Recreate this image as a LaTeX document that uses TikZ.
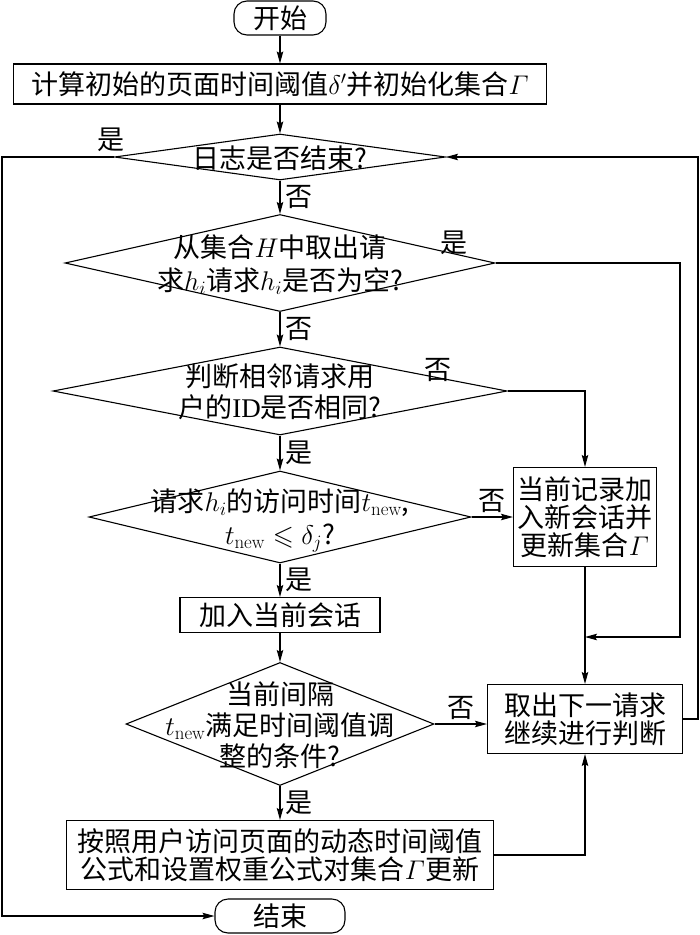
\RequirePackage{fix-cm}
\documentclass[tikz,border=0pt]{standalone}
\usepackage{amsmath}
\usepackage{amssymb}
\usepackage[no-math]{fontspec}
\setmainfont{Noto Sans CJK SC}
\newfontfamily\latinfont{Liberation Serif}
\usepackage{tikz}
\usetikzlibrary{shapes.geometric,arrows.meta}
\newcommand{\dtext}[1]{\smash{\raisebox{-0.4em}{\makebox[0pt]{\begin{tabular}{@{}c@{}}#1\end{tabular}}}}}

\begin{document}
\begin{tikzpicture}[x=1pt,y=-1pt,line width=1.1pt,>={Stealth[length=12pt,width=6.5pt,inset=2pt]},
	every node/.style={font=\fontsize{27}{28}\selectfont},
	box/.style={draw,rectangle,inner sep=0pt},
	term/.style={draw,rectangle,rounded corners=13pt,inner sep=0pt,minimum height=34pt},
	decision/.style={draw,diamond,inner sep=0pt}]
	\useasboundingbox (0,0) rectangle (700,935);
	\node[term,minimum width=92pt] (start) at (280,18) {开始};
	\node[box,minimum width=533pt,minimum height=40pt] (init) at (280,84) {计算初始的页面时间阈值$\delta'$并初始化集合$\varGamma$};
	\node[decision,minimum width=331pt,minimum height=46pt] (d_1) at (280,157) {\dtext{日志是否结束?}};
	\node[decision,minimum width=430pt,minimum height=97pt] (d_2) at (280,263) {\dtext{从集合$H$中取出请\\[2pt]求$h_i$请求$h_i$是否为空?}};
	\node[decision,minimum width=454pt,minimum height=88pt] (d_3) at (280,391) {\dtext{判断相邻请求用\\户的{\latinfont ID}是否相同?}};
	\node[decision,minimum width=382pt,minimum height=92pt] (d_4) at (280,517) {\dtext{请求$h_i$的访问时间$t_{\mathrm{new}}$,\\[4pt]$t_{\mathrm{new}}\leqslant\delta_j$?}};
	\node[box,minimum width=143pt,minimum height=99pt,align=center] (new) at (585,517) {当前记录加\\入新会话并\\更新集合$\varGamma$};
	\node[box,minimum width=200pt,minimum height=35pt] (add) at (280,615) {加入当前会话};
	\node[decision,minimum width=308pt,minimum height=123pt] (d_5) at (280,724) {\dtext{当前间隔\\$t_{\mathrm{new}}$满足时间阈值调\\整的条件?}};
	\node[box,minimum width=195pt,minimum height=69pt,align=center] (next) at (585,719) {取出下一请求\\继续进行判断};
	\node[box,minimum width=427pt,minimum height=69pt,align=center] (upd) at (280,855) {按照用户访问页面的动态时间阈值\\公式和设置权重公式对集合$\varGamma$更新};
	\node[term,minimum width=130pt] (stop) at (280,916) {结束};
	\coordinate (join) at (585,637);
	\node (l_2) at ([shift={(-42,-20)}]d_2.east) {是};
	\node (l_3) at ([shift={(-70,-21)}]d_3.east) {否};
	\draw[->] (start) -- (init);
	\draw[->] (init) -- (d_1);
	\draw[->] (d_1) -- (d_2) node[midway,right=2pt] {否};
	\draw[->] (d_2) -- (d_3) node[midway,right=2pt] {否};
	\draw[->] (d_3) -- (d_4) node[midway,right=2pt] {是};
	\draw[->] (d_4) -- (add) node[midway,right=2pt] {是};
	\draw[->] (add) -- (d_5);
	\draw[->] (d_5) -- (upd) node[midway,right=2pt] {是};
	\draw[->] (d_1.west) -- node[pos=0.03,above=1pt] {是} (2,157) |- (stop.west);
	\draw[->] (d_2.east) -- (680,263) |- (join);
	\draw[->] (d_3.east) -| (new.north);
	\draw[->] (d_4.east) -- (new.west) node[midway,above] {否};
	\draw[->] (new.south) -- (next.north);
	\draw[->] (d_5.east) -- (d_5.east -| next.west) node[midway,above] {否};
	\draw[->] (upd.east) -| (next.south);
	\draw[->] (next.east) -- (698,719) |- (d_1.east);
\end{tikzpicture}
\end{document}
